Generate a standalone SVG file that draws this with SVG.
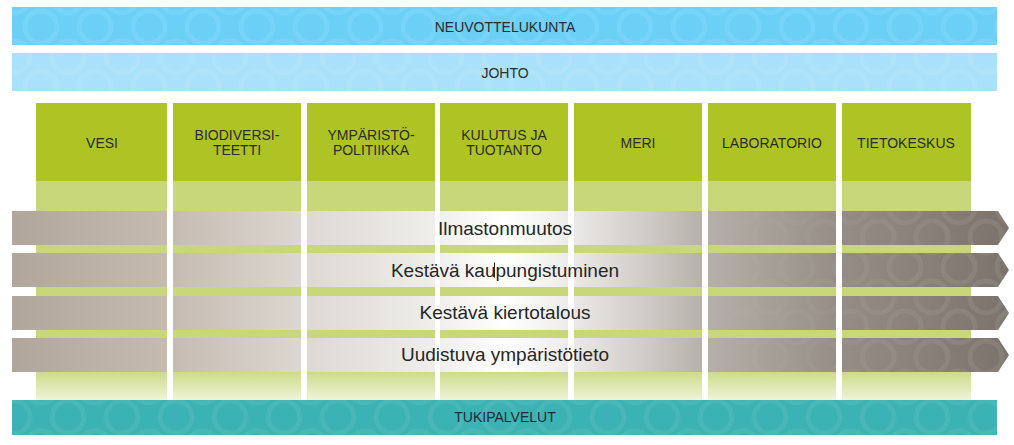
<svg xmlns="http://www.w3.org/2000/svg" width="1014" height="445" viewBox="0 0 1014 445">
<defs>
<style>
.t{font-family:"Liberation Sans",Arial,sans-serif;font-size:14px;fill:#2b2b2b;text-anchor:middle}
.a{font-family:"Liberation Sans",Arial,sans-serif;font-size:19px;fill:#262626;text-anchor:middle}
.hd{fill:#aec425}
.lo{fill:#c9d77b}
.gap{fill:#ffffff}
.ar{fill:url(#arg)}
.ring{fill:url(#rings)}
</style>
<pattern id="rings" patternUnits="userSpaceOnUse" width="54" height="60" x="14" y="-3">
<circle cx="0" cy="0" r="16" fill="none" stroke="#ffffff" stroke-width="5"/>
<circle cx="54" cy="0" r="16" fill="none" stroke="#ffffff" stroke-width="5"/>
<circle cx="0" cy="60" r="16" fill="none" stroke="#ffffff" stroke-width="5"/>
<circle cx="54" cy="60" r="16" fill="none" stroke="#ffffff" stroke-width="5"/>
<circle cx="27" cy="30" r="16" fill="none" stroke="#ffffff" stroke-width="5"/>
</pattern>
<linearGradient id="arg" gradientUnits="userSpaceOnUse" x1="12" y1="0" x2="1008" y2="0">
<stop offset="0" stop-color="#b0a69c"/>
<stop offset="0.159" stop-color="#c5bbb1"/>
<stop offset="0.289" stop-color="#dcd7d1"/>
<stop offset="0.43" stop-color="#f0efed"/>
<stop offset="0.495" stop-color="#ffffff"/>
<stop offset="0.55" stop-color="#f0efee"/>
<stop offset="0.63" stop-color="#d2cec9"/>
<stop offset="0.69" stop-color="#b8b2ac"/>
<stop offset="0.827" stop-color="#968e86"/>
<stop offset="1" stop-color="#7c746c"/>
</linearGradient>
<linearGradient id="fade" x1="0" y1="0" x2="0" y2="1">
<stop offset="0" stop-color="#cddb8a"/>
<stop offset="1" stop-color="#eff4d8"/>
</linearGradient>
<linearGradient id="ringfade" gradientUnits="userSpaceOnUse" x1="12" y1="0" x2="1008" y2="0">
<stop offset="0" stop-color="#fff" stop-opacity="0"/>
<stop offset="0.68" stop-color="#fff" stop-opacity="0"/>
<stop offset="1" stop-color="#fff" stop-opacity="1"/>
</linearGradient>
<mask id="rightmask">
<rect x="0" y="0" width="1014" height="445" fill="url(#ringfade)"/>
</mask>
</defs>

<g id="neuvottelukunta">
<rect x="12" y="7" width="985" height="38" fill="#6bcff6"/>
<rect x="12" y="7" width="985" height="38" class="ring" opacity="0.08"/>
<text class="t" x="505" y="32">NEUVOTTELUKUNTA</text>
</g>

<g id="johto">
<rect x="12" y="53" width="985" height="38" fill="#a8e1f9"/>
<rect x="12" y="53" width="985" height="38" class="ring" opacity="0.08"/>
<text class="t" x="505" y="78">JOHTO</text>
</g>

<g id="columns-lower">
<rect class="lo" x="36" y="181" width="935" height="191"/>
<rect x="36" y="372" width="935" height="28" fill="url(#fade)"/>
</g>

<g id="arrows">
<polygon class="ar" points="12,211 998,211 1009,228 998,245 12,245"/>
<polygon class="ar" points="12,253 998,253 1009,270 998,287 12,287"/>
<polygon class="ar" points="12,296 998,296 1009,313 998,330 12,330"/>
<polygon class="ar" points="12,338 998,338 1009,355 998,372 12,372"/>
<g mask="url(#rightmask)" opacity="0.07">
<polygon class="ring" points="12,211 998,211 1009,228 998,245 12,245"/>
<polygon class="ring" points="12,253 998,253 1009,270 998,287 12,287"/>
<polygon class="ring" points="12,296 998,296 1009,313 998,330 12,330"/>
<polygon class="ring" points="12,338 998,338 1009,355 998,372 12,372"/>
</g>
</g>

<g id="column-gaps">
<rect class="gap" x="167" y="103" width="6" height="297"/>
<rect class="gap" x="301" y="103" width="6" height="297"/>
<rect class="gap" x="435" y="103" width="5" height="297"/>
<rect class="gap" x="568" y="103" width="6" height="297"/>
<rect class="gap" x="702" y="103" width="6" height="297"/>
<rect class="gap" x="836" y="103" width="6" height="297"/>
</g>

<g id="vesi">
<rect class="hd" x="36" y="103" width="131" height="78"/>
<text class="t" x="102" y="148">VESI</text>
</g>
<g id="biodiversiteetti">
<rect class="hd" x="173" y="103" width="128" height="78"/>
<text class="t" x="237" y="140">BIODIVERSI-</text>
<text class="t" x="237" y="155">TEETTI</text>
</g>
<g id="ymparistopolitiikka">
<rect class="hd" x="307" y="103" width="128" height="78"/>
<text class="t" x="371" y="140">YMPÄRISTÖ-</text>
<text class="t" x="371" y="155">POLITIIKKA</text>
</g>
<g id="kulutus-ja-tuotanto">
<rect class="hd" x="440" y="103" width="128" height="78"/>
<text class="t" x="504" y="140">KULUTUS JA</text>
<text class="t" x="504" y="155">TUOTANTO</text>
</g>
<g id="meri">
<rect class="hd" x="574" y="103" width="128" height="78"/>
<text class="t" x="638" y="148">MERI</text>
</g>
<g id="laboratorio">
<rect class="hd" x="708" y="103" width="128" height="78"/>
<text class="t" x="772" y="148">LABORATORIO</text>
</g>
<g id="tietokeskus">
<rect class="hd" x="842" y="103" width="129" height="78"/>
<text class="t" x="906" y="148">TIETOKESKUS</text>
</g>

<g id="arrow-labels">
<text class="a" x="505" y="235">Ilmastonmuutos</text>
<text class="a" x="505" y="277">Kestävä kaupungistuminen</text>
<text class="a" x="505" y="319">Kestävä kiertotalous</text>
<text class="a" x="505" y="361">Uudistuva ympäristötieto</text>
<line x1="494.5" y1="262.5" x2="494.5" y2="277.5" stroke="#222" stroke-width="1"/>
</g>

<g id="tukipalvelut">
<rect x="12" y="400" width="985" height="35" fill="#3bb2b4"/>
<rect x="12" y="400" width="985" height="35" class="ring" opacity="0.06"/>
<text class="t" x="505" y="422" style="fill:#1e2b38">TUKIPALVELUT</text>
</g>
</svg>
